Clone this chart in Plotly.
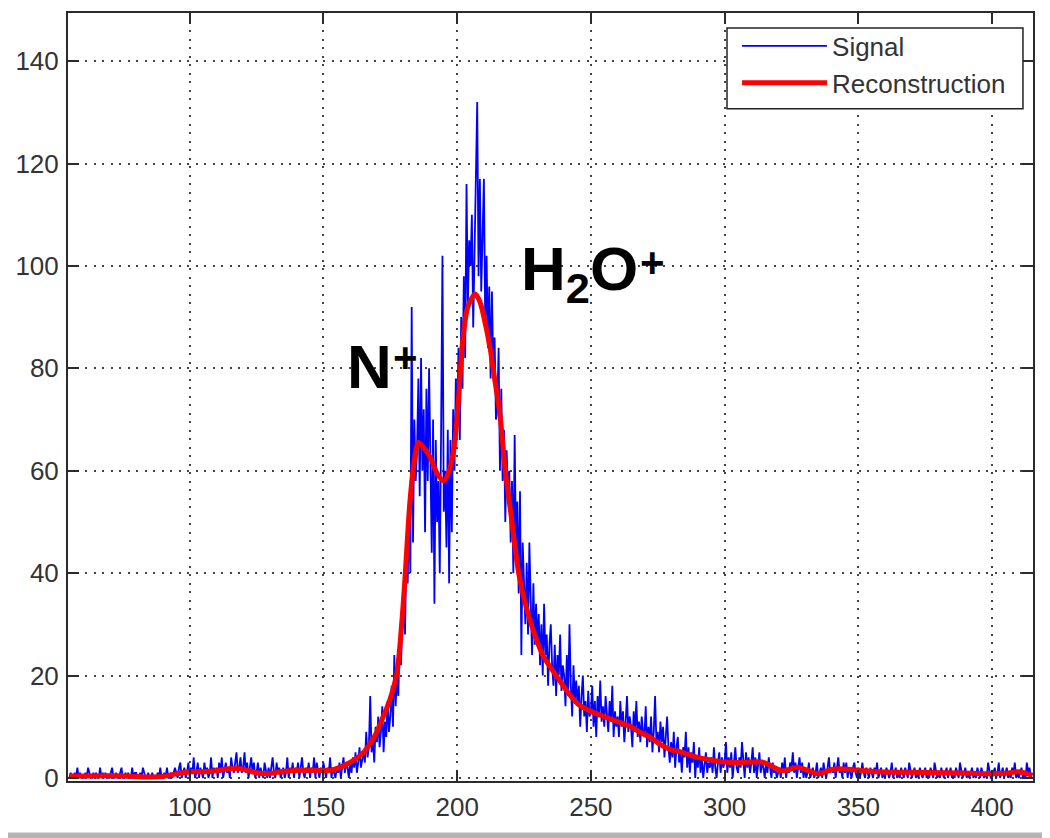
import numpy as np
import plotly.graph_objects as go

# measured signal, sampled every 0.5 starting at 55 (one row = 5 units)
signal_start = 55
signal_step = 0.5
signal = [
    0, 1, 0, 0, 1, 0, 2, 0, 1, 0,
    0, 0, 1, 0, 2, 1, 0, 0, 1, 0,
    1, 0, 0, 2, 0, 1, 0, 1, 0, 0,
    0, 1, 2, 0, 0, 1, 0, 0, 1, 2,
    0, 0, 1, 0, 1, 0, 0, 2, 0, 1,
    1, 0, 0, 1, 0, 2, 1, 0, 0, 1,
    0, 0, 1, 0, 0, 0, 1, 0, 2, 0,
    0, 1, 0, 2, 0, 0, 1, 0, 1, 2,
    1, 0, 2, 3, 0, 1, 2, 0, 1, 3,
    0, 2, 1, 4, 0, 1, 3, 0, 2, 1,
    0, 3, 1, 2, 0, 1, 4, 0, 2, 1,
    2, 0, 3, 1, 4, 0, 2, 3, 1, 2,
    0, 4, 2, 1, 3, 5, 1, 2, 4, 1,
    2, 5, 1, 3, 0, 2, 4, 1, 3, 0,
    1, 3, 0, 2, 1, 0, 3, 1, 0, 2,
    0, 2, 4, 1, 0, 3, 1, 2, 0, 1,
    2, 0, 1, 4, 0, 2, 1, 3, 0, 2,
    1, 3, 0, 2, 4, 1, 0, 2, 1, 3,
    0, 2, 1, 4, 0, 3, 1, 0, 2, 1,
    3, 1, 0, 2, 1, 4, 0, 2, 1, 0,
    2, 1, 3, 0, 2, 4, 1, 3, 2, 0,
    3, 1, 4, 2, 5, 1, 3, 6, 2, 4,
    5, 3, 9, 4, 6, 16, 5, 8, 3, 10,
    7, 12, 6, 9, 14, 5, 11, 8, 15, 9,
    12, 18, 10, 24, 14, 20, 16, 27, 22, 30,
    36, 28, 44, 38, 52, 40, 92, 46, 70, 58,
    64, 78, 55, 82, 60, 72, 48, 76, 58, 80,
    62, 44, 70, 34, 66, 50, 58, 40, 68, 102,
    52, 60, 45, 68, 38, 66, 48, 72, 60, 78,
    70, 84, 66, 90, 76, 98, 82, 116, 92, 105,
    100, 110, 88, 104, 112, 132, 98, 117, 95, 106,
    117, 88, 102, 84, 96, 78, 95, 80, 86, 70,
    72, 84, 60, 76, 58, 68, 50, 64, 55, 60,
    46, 58, 40, 67, 44, 54, 36, 56, 24, 46,
    36, 30, 42, 28, 46, 32, 24, 38, 26, 34,
    26, 32, 22, 30, 20, 34, 24, 28, 18, 26,
    30, 22, 18, 26, 16, 24, 20, 28, 17, 22,
    20, 14, 24, 16, 30, 18, 12, 22, 15, 19,
    14, 18, 10, 16, 20, 12, 15, 9, 17, 12,
    13, 18, 10, 15, 8, 16, 12, 19, 11, 14,
    10, 16, 12, 9, 15, 11, 18, 8, 13, 10,
    12, 8, 15, 10, 13, 7, 11, 16, 9, 12,
    10, 6, 13, 9, 15, 8, 11, 7, 12, 9,
    8, 14, 6, 10, 7, 12, 5, 9, 16, 7,
    9, 5, 11, 7, 10, 4, 8, 12, 6, 3,
    7, 4, 9, 2, 6, 8, 3, 5, 1, 6,
    4, 9, 2, 6, 1, 5, 3, 7, 0, 4,
    2, 6, 1, 4, 0, 3, 5, 1, 3, 2,
    4, 1, 6, 2, 0, 3, 5, 1, 4, 2,
    3, 7, 1, 4, 2, 5, 0, 3, 6, 2,
    1, 4, 2, 7, 3, 0, 5, 2, 4, 1,
    3, 6, 1, 4, 0, 2, 5, 1, 3, 2,
    0, 3, 1, 4, 2, 0, 3, 1, 2, 0,
    1, 2, 0, 3, 1, 4, 0, 2, 1, 3,
    2, 5, 1, 3, 0, 2, 4, 1, 3, 0,
    2, 0, 1, 3, 0, 1, 2, 0, 1, 3,
    0, 1, 2, 0, 3, 1, 0, 2, 4, 1,
    2, 1, 3, 0, 2, 4, 1, 2, 0, 3,
    1, 3, 0, 2, 1, 0, 2, 3, 1, 0,
    2, 0, 1, 3, 1, 0, 2, 1, 0, 2,
    1, 0, 2, 1, 3, 0, 1, 2, 0, 1,
    0, 2, 1, 0, 1, 3, 0, 1, 2, 0,
    1, 0, 2, 1, 0, 2, 1, 0, 3, 1,
    0, 1, 2, 0, 1, 0, 2, 1, 0, 1,
    2, 0, 1, 0, 2, 1, 0, 3, 1, 0,
    1, 0, 2, 1, 0, 1, 2, 0, 1, 2,
    0, 1, 0, 2, 1, 0, 3, 1, 0, 1,
    2, 0, 1, 0, 1, 2, 0, 1, 0, 2,
    1, 0, 2, 1, 0, 1, 0, 3, 1, 0,
    0, 1, 2, 0, 1, 3, 0, 1, 2, 0,
    1, 2, 0, 1, 0, 2, 1, 3, 0, 1,
    0, 1, 2, 0, 1, 0, 3, 1, 2, 0,
    1,
]
signal_x = signal_start + signal_step * np.arange(len(signal))

# smooth reconstruction
recon_x = [55, 65, 75, 85, 90, 95, 100, 105, 110, 116, 120, 125, 129, 134,
           140, 147, 153, 158, 162, 165, 169, 172, 175, 177.5, 179.4, 180.5,
           182.3, 184, 185.5, 187.5, 190, 192.5, 195, 197, 199, 200.5, 202,
           204, 206.7, 208.5, 210, 212.3, 214, 216, 218, 220, 223, 226, 229,
           232, 237, 241, 245, 250, 255, 260, 265, 268, 272, 276, 280, 284,
           290, 295, 300, 305, 310, 314, 318, 321, 324, 327, 331, 335, 338,
           342, 348, 358, 370, 383, 392, 400, 405, 410, 415]
recon_y = [0.4, 0.4, 0.4, 0.2, 0.3, 0.8, 1.2, 1.2, 1.4, 1.9, 1.7, 1.0, 0.8, 1.2,
           1.5, 1.5, 1.5, 2.5, 3.7, 5, 8, 11.5, 15.5, 20.6, 31, 39,
           53.7, 62, 65.5, 64.5, 62.5, 59.5, 58, 60, 65, 74, 85,
           92, 94.5, 93, 90, 84, 78, 71, 60, 52, 40, 33, 28,
           24, 20, 17, 14.5, 13, 12, 11, 10, 9, 8, 6.5, 5.5, 5,
           4, 3.5, 3.1, 3, 3.1, 3.1, 2.2, 1.4, 1.6, 2.1, 1.5, 0.8, 1.3,
           1.8, 1.6, 1.2, 1.1, 1.0, 0.9, 0.8, 0.9, 1.2, 0.5]

x_ticks = [100, 150, 200, 250, 300, 350, 400]
y_ticks = [0, 20, 40, 60, 80, 100, 120, 140]

FONT = "Liberation Sans, Arial, sans-serif"
AXIS = "#2b2b2b"

fig = go.Figure()
fig.add_trace(go.Scatter(
    x=signal_x, y=signal, mode="lines", name="Signal",
    line=dict(color="#0000ff", width=1.8),
))
fig.add_trace(go.Scatter(
    x=recon_x, y=recon_y, mode="lines", name="Reconstruction",
    line=dict(color="#ff0000", width=5, shape="spline", smoothing=0.8),
))

big = dict(family=FONT, size=62, color="black", weight="bold")
small = dict(family=FONT, size=42, color="black", weight="bold")
# peak labels
fig.add_annotation(x=167.4, y=80.3, text="N", font=big,
                   xanchor="center", yanchor="middle")
fig.add_annotation(x=180.5, y=82.2, text="+", font=small,
                   xanchor="center", yanchor="middle")
fig.add_annotation(x=223.1, y=98.6, text="H<sub>2</sub>O", font=big,
                   xanchor="left", yanchor="middle")
fig.add_annotation(x=273.0, y=100.7, text="+", font=small,
                   xanchor="center", yanchor="middle")
fig.update_annotations(xref="x", yref="y", showarrow=False)

# legend frame (white box over the grid)
fig.add_shape(type="rect", xref="paper", yref="paper", layer="above",
              x0=0.6829, x1=0.9896, y0=0.8753, y1=0.9805,
              fillcolor="white", line=dict(color="#222222", width=1.5))
# grey edge at the bottom of the picture
fig.add_shape(type="rect", xref="paper", yref="paper", x0=-0.08, x1=1.02,
              y0=-0.075, y1=-0.067, line_width=0, fillcolor="#b5b5b5")

axis_common = dict(
    showline=True, linecolor=AXIS, linewidth=2, mirror="ticks",
    ticks="inside", ticklen=11, tickwidth=2, tickcolor=AXIS,
    showgrid=True, gridcolor="#444444", gridwidth=1.5, griddash="2px,6.5px",
    zeroline=False, tickfont=dict(family=FONT, size=26, color="#333333"),
)
fig.update_xaxes(range=[54.5, 415.3], tickvals=x_ticks, ticklabelstandoff=2,
                 **axis_common)
fig.update_yaxes(range=[-0.6, 149.4], tickvals=y_ticks, ticklabelstandoff=2,
                 **axis_common)

# the page body adds an 8px margin, so the figure is 8px smaller
fig.update_layout(
    width=1042, height=830,
    margin=dict(l=60, r=17, t=3, b=57),
    paper_bgcolor="white", plot_bgcolor="white",
    font=dict(family=FONT, color="#333333"),
    showlegend=True,
    legend=dict(
        x=0.6933, y=0.9876, xanchor="left", yanchor="top",
        bgcolor="rgba(0,0,0,0)", borderwidth=0,
        font=dict(family=FONT, size=26, color="#333333"),
        itemwidth=85,
    ),
)

fig.write_html("out.html")
